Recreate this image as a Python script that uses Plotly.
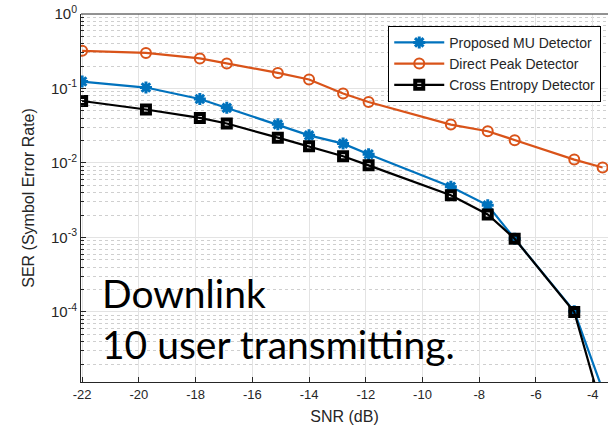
import plotly.graph_objects as go

snr = [-22, -19.75, -17.85, -16.9, -15.1, -14.0, -12.8, -11.9, -9.0, -7.7, -6.75, -4.65, -3.65]
proposed_mu = [0.124, 0.103, 0.0724, 0.055, 0.033, 0.0235, 0.0182, 0.0131, 0.0048, 0.0027, 0.00096, 1.02e-4, 9e-6]
direct_peak = [0.32, 0.30, 0.253, 0.217, 0.162, 0.132, 0.0857, 0.066, 0.0328, 0.0267, 0.0202, 0.0111, 0.0087]
cross_entropy = [0.068, 0.0522, 0.0403, 0.0339, 0.0219, 0.0168, 0.0123, 0.0093, 0.00368, 0.00204, 0.00096, 1.0e-4, 4.6e-6]

x_ticks = list(range(-22, -3, 2))
y_exps = [0, -1, -2, -3, -4]

BLUE = "#0072BD"
ORANGE = "#D95319"
BLACK = "#000000"
TXT = "#262626"

fig = go.Figure()
fig.add_trace(go.Scatter(
    x=snr, y=proposed_mu, name="Proposed MU Detector", mode="lines+markers",
    line=dict(color=BLUE, width=2.2),
    marker=dict(symbol="asterisk-open", size=10, color=BLUE, line=dict(color=BLUE, width=3)),
))
fig.add_trace(go.Scatter(
    x=snr, y=direct_peak, name="Direct Peak Detector", mode="lines+markers",
    line=dict(color=ORANGE, width=2.2),
    marker=dict(symbol="circle-open", size=10, color=ORANGE, line=dict(color=ORANGE, width=2)),
))
fig.add_trace(go.Scatter(
    x=snr, y=cross_entropy, name="Cross Entropy Detector", mode="lines+markers",
    line=dict(color=BLACK, width=2.2),
    marker=dict(symbol="square-open", size=8, color=BLACK, line=dict(color=BLACK, width=4)),
))

minor_vals = [m * 10 ** e for e in range(-5, 0) for m in range(2, 10)]

fig.update_layout(
    width=608, height=426,
    margin=dict(l=81, r=0, t=14, b=44),
    paper_bgcolor="white", plot_bgcolor="white",
    font=dict(family="Liberation Sans, Arial, sans-serif", color=TXT, size=13),
    showlegend=True,
    legend=dict(
        x=0.583, y=0.968, xanchor="left", yanchor="top",
        bgcolor="white", bordercolor="#000000", borderwidth=1,
        font=dict(size=14, color=TXT), itemwidth=50,
        tracegroupgap=0,
    ),
    xaxis=dict(
        range=[-22.04, -3.46], tickmode="array", tickvals=x_ticks,
        ticktext=[str(v) for v in x_ticks],
        ticks="inside", ticklen=5, tickcolor=TXT,
        showline=True, linecolor=TXT, linewidth=1, mirror=False,
        showgrid=True, gridcolor="#e3e3e3", gridwidth=1,
        zeroline=False,
        title=dict(text="SNR (dB)", font=dict(size=16, color=TXT), standoff=10),
        tickfont=dict(size=13, color=TXT),
    ),
    yaxis=dict(
        type="log", range=[-4.94, 0.0],
        tickmode="array", tickvals=[10 ** e for e in y_exps],
        ticktext=["10<sup>%d</sup>" % e for e in y_exps],
        ticks="inside", ticklen=5, tickcolor=TXT,
        showline=True, linecolor=TXT, linewidth=1,
        showgrid=True, gridcolor="#e3e3e3", gridwidth=1,
        zeroline=False,
        minor=dict(tickmode="array", tickvals=minor_vals, ticks="inside", ticklen=3,
                   tickcolor=TXT, showgrid=True, gridcolor="#cfcfcf", griddash="dot", gridwidth=1),
        title=dict(text="SER (Symbol Error Rate)", font=dict(size=16, color=TXT), standoff=12),
        tickfont=dict(size=15, color=TXT),
    ),
    shapes=[
        dict(type="rect", xref="paper", yref="paper", x0=0.002, x1=0.833, y0=0.004, y1=0.35,
             fillcolor="white", line=dict(width=0), layer="between"),
        dict(type="line", xref="paper", yref="paper", x0=0, x1=1, y0=1, y1=1,
             line=dict(color=TXT, width=1)),
    ],
    annotations=[
        dict(text="Downlink<br>10 user transmitting.", xref="paper", yref="paper",
             x=0.036, y=0.035, xanchor="left", yanchor="bottom", align="left",
             showarrow=False, font=dict(family="Lato, sans-serif", size=39, color="#000000")),
    ],
)

fig.write_html("out.html")
